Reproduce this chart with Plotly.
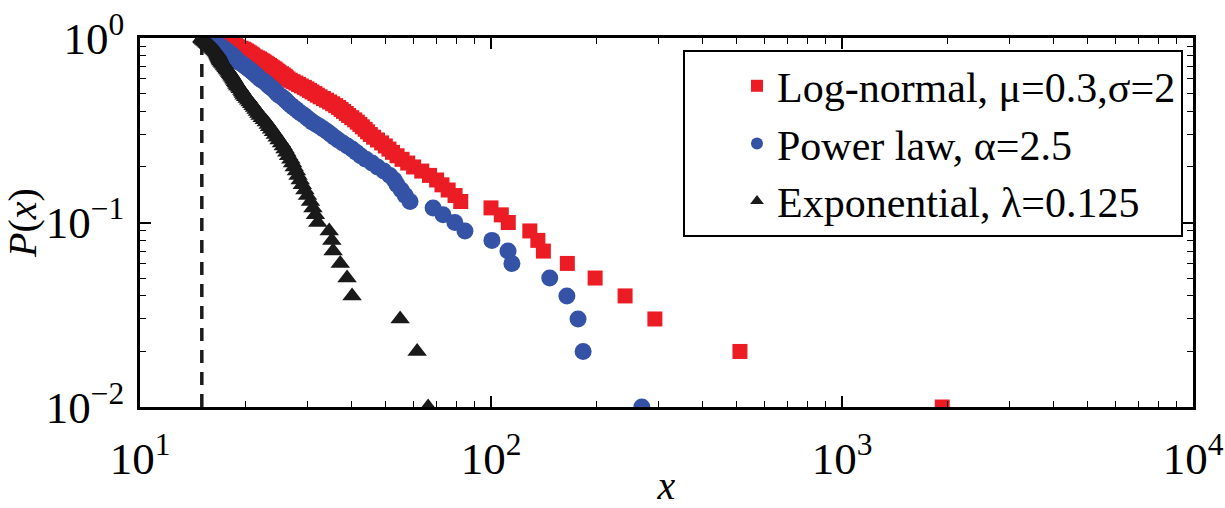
import plotly.graph_objects as go

P = [round(1.0 - 0.01 * i, 2) for i in range(100)]

lognormal_x = [15.3, 15.9, 16.4, 16.8, 17.1, 17.5, 17.8, 18.1, 18.4, 18.7,
               18.9, 19.1, 19.4, 19.7, 19.9, 20.1, 20.3, 20.5, 20.7, 20.9,
               21.0, 21.3, 21.6, 21.9, 22.1, 22.4, 22.6, 22.9, 23.1, 23.4,
               23.6, 23.9, 24.2, 24.4, 24.7, 24.9, 25.3, 25.6, 25.9, 26.1,
               26.4, 26.8, 27.3, 27.8, 28.3, 28.8, 29.4, 29.9, 30.4, 30.9,
               31.5, 32.0, 32.6, 33.3, 34.0, 34.7, 35.4, 36.1, 36.8, 37.4,
               38.0, 38.7, 39.3, 40.1, 40.9, 41.6, 42.3, 43.0, 43.8, 44.5,
               45.3, 46.3, 47.5, 48.8, 50.0, 51.2, 52.4, 54.0, 55.8, 57.9,
               60.2, 63.5, 66.8, 70.0, 72.5, 75.5, 79.0, 82.0, 100.0, 107.0,
               112.0, 129.0, 136.0, 141.0, 165.0, 198.0, 241.0, 293.0, 512.0, 1930.0]

powerlaw_x = [15.2, 15.4, 15.6, 15.8, 15.9, 16.1, 16.3, 16.5, 16.6, 16.8,
              16.9, 17.1, 17.2, 17.4, 17.5, 17.7, 17.8, 18.0, 18.1, 18.3,
              18.4, 18.5, 18.7, 18.8, 18.9, 19.0, 19.2, 19.4, 19.6, 19.8,
              20.0, 20.2, 20.4, 20.6, 20.8, 21.0, 21.2, 21.4, 21.6, 21.8,
              22.0, 22.3, 22.6, 22.9, 23.1, 23.3, 23.6, 23.9, 24.2, 24.4,
              24.6, 24.9, 25.3, 25.7, 26.0, 26.3, 26.6, 27.0, 27.4, 27.9,
              28.3, 28.8, 29.4, 29.9, 30.4, 31.0, 31.8, 32.6, 33.4, 34.2,
              35.0, 35.8, 36.7, 37.8, 39.0, 40.2, 41.3, 42.5, 44.0, 45.8,
              47.5, 49.5, 51.5, 53.0, 54.0, 55.5, 57.0, 58.8, 68.4, 73.0,
              78.9, 84.3, 100.6, 111.8, 114.7, 147.0, 164.5, 177.0, 183.0, 269.0]

exponential_x = [15.0, 15.05, 15.1, 15.2, 15.3, 15.4, 15.5, 15.6, 15.7, 15.8,
                 15.9, 16.0, 16.1, 16.2, 16.3, 16.4, 16.5, 16.6, 16.65, 16.7,
                 16.75, 16.8, 16.85, 16.9, 16.95, 17.0, 17.1, 17.2, 17.3, 17.4,
                 17.5, 17.6, 17.7, 17.8, 17.9, 18.0, 18.1, 18.2, 18.3, 18.4,
                 18.5, 18.6, 18.7, 18.8, 18.9, 19.0, 19.2, 19.3, 19.5, 19.6,
                 19.7, 19.8, 20.0, 20.2, 20.4, 20.6, 20.8, 21.0, 21.2, 21.4,
                 21.6, 21.8, 22.0, 22.3, 22.6, 22.9, 23.2, 23.4, 23.7, 24.0,
                 24.3, 24.6, 24.9, 25.3, 25.6, 25.9, 26.2, 26.5, 26.9, 27.2,
                 27.5, 27.9, 28.2, 28.6, 29.0, 29.5, 30.0, 30.6, 31.1, 31.6,
                 32.1, 34.6, 35.2, 35.5, 37.2, 38.9, 40.2, 55.1, 61.6, 66.2]

xmin_line_x = [15, 15]
xmin_line_y = [0.01, 1.0]

x_tick_vals = [10, 100, 1000, 10000]
x_tick_text = ["10<sup>1</sup>", "10<sup>2</sup>", "10<sup>3</sup>", "10<sup>4</sup>"]
y_tick_vals = [0.01, 0.1, 1]
y_tick_text = ["10<sup>−2</sup>", "10<sup>−1</sup>", "10<sup>0</sup>"]

names = ["Log-normal, μ=0.3,σ=2", "Power law, α=2.5", "Exponential, λ=0.125"]

RED = "#EC1C24"
BLUE = "#3553A6"
BLACK = "#1A1A1A"
FONT = "Liberation Serif"

fig = go.Figure()
fig.add_trace(go.Scatter(x=xmin_line_x, y=xmin_line_y, mode="lines",
                         line=dict(color=BLACK, width=3.5, dash="13px,9px"),
                         showlegend=False, hoverinfo="skip"))
fig.add_trace(go.Scatter(x=lognormal_x, y=P, mode="markers", name=names[0],
                         marker=dict(symbol="square", size=15, color=RED)))
fig.add_trace(go.Scatter(x=powerlaw_x, y=P, mode="markers", name=names[1],
                         marker=dict(symbol="circle", size=17, color=BLUE)))
fig.add_trace(go.Scatter(x=exponential_x, y=P, mode="markers", name=names[2],
                         marker=dict(symbol="triangle-up", size=17, color=BLACK)))

minor_x = [v * m for v in [10, 100, 1000] for m in range(2, 10)]
minor_y = [v * m for v in [0.01, 0.1] for m in range(2, 10)]

fig.update_layout(
    width=1225, height=508,
    margin=dict(l=140, r=32, t=38, b=101, autoexpand=False),
    paper_bgcolor="white", plot_bgcolor="white",
    font=dict(family=FONT, color="black", size=40),
    showlegend=True,
    legend=dict(x=0.9905, y=0.9675, xanchor="right", yanchor="top",
                bgcolor="white", bordercolor="black", borderwidth=2,
                font=dict(family=FONT, size=42), itemsizing="constant",
                indentation=52, tracegroupgap=0),
    xaxis=dict(type="log", range=[1, 4], showgrid=False, zeroline=False,
               automargin=False,
               showline=True, linecolor="black", linewidth=2.5, mirror="ticks",
               ticks="inside", ticklen=11, tickwidth=1.5, tickcolor="black",
               tickmode="array", tickvals=x_tick_vals, ticktext=x_tick_text,
               tickfont=dict(family=FONT, size=45), ticklabelstandoff=10,
               minor=dict(tickmode="array", tickvals=minor_x, ticks="inside",
                          ticklen=6, tickwidth=1.2, tickcolor="black", showgrid=False),
               title=dict(text="<i>x</i>", font=dict(family=FONT, size=40), standoff=9)),
    yaxis=dict(type="log", range=[-2, 0], showgrid=False, zeroline=False,
               automargin=False,
               showline=True, linecolor="black", linewidth=2.5, mirror="ticks",
               ticks="inside", ticklen=11, tickwidth=1.5, tickcolor="black",
               tickmode="array", tickvals=y_tick_vals, ticktext=y_tick_text,
               tickfont=dict(family=FONT, size=45), ticklabelstandoff=4,
               minor=dict(tickmode="array", tickvals=minor_y, ticks="inside",
                          ticklen=6, tickwidth=1.2, tickcolor="black", showgrid=False),
               title=dict(text="<i>P</i>(<i>x</i>)", font=dict(family=FONT, size=40), standoff=4)),
)

fig.write_html("out.html")
